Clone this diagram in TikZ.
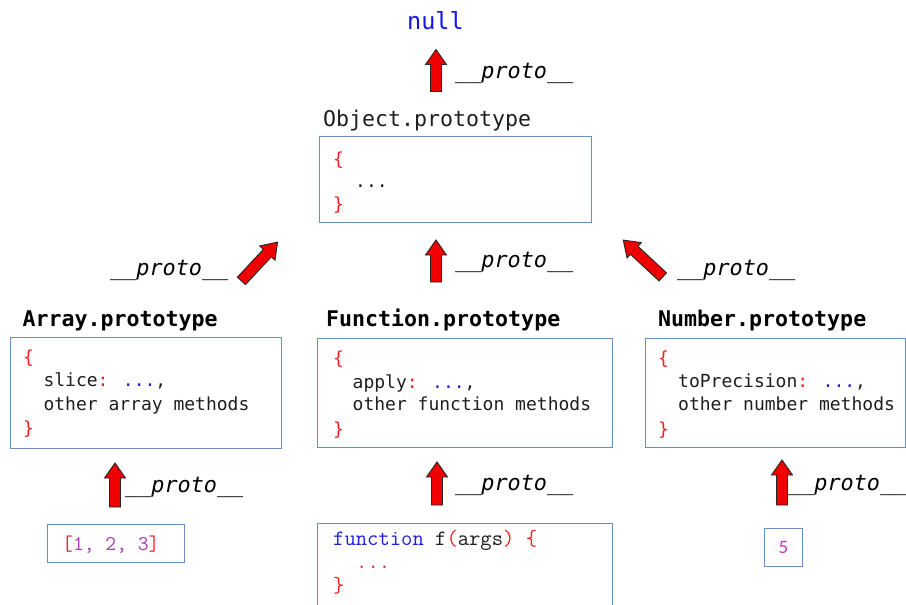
\documentclass[tikz,border=0pt]{standalone}
\usepackage{fontspec}
\newfontfamily\dmono{DejaVu Sans Mono}
\newfontfamily\csans{Carlito}
\definecolor{boxblue}{RGB}{108,142,191}
\definecolor{txt}{RGB}{30,30,30}
\definecolor{cred}{RGB}{245,30,30}
\definecolor{cblue}{RGB}{30,30,225}
\definecolor{nullblue}{RGB}{20,20,240}
\definecolor{cpurple}{RGB}{175,55,190}
\definecolor{cmag}{RGB}{205,50,205}
\definecolor{arrowred}{RGB}{240,0,0}
\tikzset{
  codebox/.style={draw=boxblue, line width=1.3pt, anchor=north west, inner sep=0pt},
  ln/.style={anchor=base west, inner sep=0pt, font=\dmono\fontsize{18}{20}\selectfont, text=txt},
  cour/.style={anchor=base west, inner sep=0pt, font=\ttfamily\fontsize{22}{24}\selectfont, text=txt},
  boxtitle/.style={anchor=base west, inner sep=0pt, font=\dmono\bfseries\fontsize{21.6}{24}\selectfont, text=black},
  plabel/.style={anchor=base west, inner sep=0pt, font=\dmono\itshape\fontsize{21.8}{24}\selectfont, text=black},
  blockarrow/.style={draw=black!85, fill=arrowred, line width=0.9pt, line join=miter},
}
\newcommand{\blockarr}[4]{% x, y, angle, length
  \draw[blockarrow, shift={(#1,#2)}, rotate=#3]
    ({-#4/2},-5.5) -- ({#4/2-15},-5.5) -- ({#4/2-15},-10.5) -- ({#4/2},0)
    -- ({#4/2-15},10.5) -- ({#4/2-15},5.5) -- ({-#4/2},5.5) -- cycle;}
\begin{document}
\begin{tikzpicture}[x=1pt,y=-1pt]
\useasboundingbox (0,0) rectangle (906,605);

% null
\node[anchor=base west, inner sep=0pt, font=\dmono\fontsize{23.5}{26}\selectfont, text=nullblue] (null) at (407,29) {null};

% Object.prototype
\node[anchor=base west, inner sep=0pt, font=\dmono\fontsize{21.6}{24}\selectfont, text=txt] (objt) at (323,126) {Object.prototype};
\node[codebox, minimum width=272pt, minimum height=86pt] (obj) at (319,136) {};
\node[ln, text=cred] (o1) at (333,165) {\{};
\node[ln] (o2) at (355,187.5) {...};
\node[ln, text=cred] (o3) at (333,210) {\}};

% Array.prototype
\node[boxtitle] (arrt) at (22.5,326.5) {Array.prototype};
\node[codebox, minimum width=271.5pt, minimum height=110.5pt] (arr) at (9.5,337) {};
\node[ln, text=cred] (a1) at (23,363) {\{};
\node[ln] (a2) at (43.3,386.5) {slice\textcolor{cred}{:} \textcolor{cblue}{...},};
\node[ln] (a3) at (43.3,410) {other array methods};
\node[ln, text=cred] (a4) at (23,434) {\}};

% Function.prototype
\node[boxtitle] (funt) at (326,326) {Function.prototype};
\node[codebox, minimum width=294.5pt, minimum height=109pt] (fun) at (317,338) {};
\node[ln, text=cred] (f1) at (333,364) {\{};
\node[ln] (f2) at (352.5,388) {apply\textcolor{cred}{:} \textcolor{cblue}{...},};
\node[ln] (f3) at (352.5,410.5) {other function methods};
\node[ln, text=cred] (f4) at (333,435) {\}};

% Number.prototype
\node[boxtitle] (numt) at (658,326) {Number.prototype};
\node[codebox, minimum width=260pt, minimum height=109pt] (num) at (645,338) {};
\node[ln, text=cred] (n1) at (658,364) {\{};
\node[ln] (n2) at (678,387.5) {toPrecision\textcolor{cred}{:} \textcolor{cblue}{...},};
\node[ln] (n3) at (678,410.5) {other number methods};
\node[ln, text=cred] (n4) at (658,435) {\}};

% bottom: [1, 2, 3]
\node[codebox, minimum width=137pt, minimum height=38pt] (arrlit) at (46.5,524) {};
\node[cour, font=\ttfamily\fontsize{21}{24}\selectfont, text=cpurple] (al) at (62,550) {\textcolor{cred}{[}1, 2, 3\textcolor{cred}{]}};

% bottom: function f(args)
\node[codebox, minimum width=294.5pt, minimum height=100pt] (fcode) at (317,522.5) {};
\node[cour] (c1) at (333,545) {\textcolor{cblue}{function} f\textcolor{cred}{(}args\textcolor{cred}{)} \textcolor{cred}{\{}};
\node[cour, text=cred] (c2) at (356,568) {...};
\node[cour, text=cred] (c3) at (333,592) {\}};

% bottom: 5
\node[codebox, minimum width=37.5pt, minimum height=37.5pt] (five) at (764,528) {};
\node[inner sep=0pt, font=\csans\fontsize{19}{22}\selectfont, text=cmag] (fivet) at (five.center) {5};

% arrows
\blockarr{436}{70.5}{90}{42}
\blockarr{259.5}{261.5}{47}{53}
\blockarr{436}{261}{90}{42}
\blockarr{643}{258.5}{137}{54}
\blockarr{115}{485}{90}{44}
\blockarr{437}{483.5}{90}{43}
\blockarr{782}{482.5}{90}{45}

% labels
\node[plabel] (p0) at (455,78) {\_\_proto\_\_};
\node[plabel] (p1) at (110,275) {\_\_proto\_\_};
\node[plabel] (p2) at (455,267.5) {\_\_proto\_\_};
\node[plabel] (p3) at (677,275) {\_\_proto\_\_};
\node[plabel] (p4) at (125,492.5) {\_\_proto\_\_};
\node[plabel] (p5) at (455,490) {\_\_proto\_\_};
\node[plabel] (p6) at (788,490.5) {\_\_proto\_\_};
\end{tikzpicture}
\end{document}
